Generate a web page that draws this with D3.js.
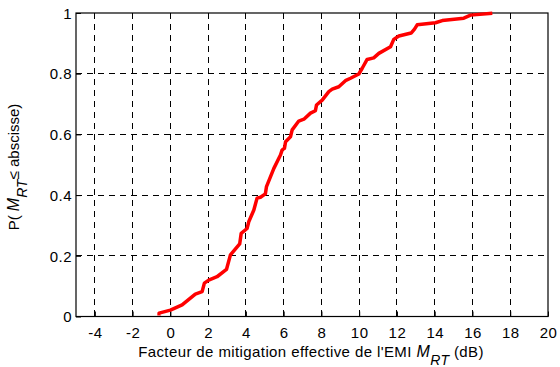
<!DOCTYPE html>
<html><head><meta charset="utf-8">
<script src="https://cdn.jsdelivr.net/npm/d3@7"></script>
<style>body{margin:0;background:#fff}svg{display:block}text{font-family:"Liberation Sans",Arial,sans-serif;fill:#000}</style>
</head><body><svg id="c" width="560" height="367"></svg>
<script>
const xTicks = [-4,-2,0,2,4,6,8,10,12,14,16,18,20];
const xTickLabels = ["-4","-2","0","2","4","6","8","10","12","14","16","18","20"];
const yTicks = [0,0.2,0.4,0.6,0.8,1];
const yTickLabels = ["0","0.2","0.4","0.6","0.8","1"];
const cdfX = [-0.6,-0.6,0,0.62,1.32,1.68,1.8,2.03,2.47,2.97,3.18,3.67,3.75,4.06,4.15,4.42,4.59,4.77,5.03,5.09,5.48,5.83,5.92,6.04,6.1,6.36,6.45,6.8,7.07,7.42,7.68,7.74,8.04,8.39,8.57,8.92,9.27,9.54,9.98,10.16,10.42,10.77,11.04,11.66,11.83,12.1,12.75,12.93,13.07,14.04,14.4,15.54,15.9,17.05];
const cdfY = [0.003,0.011,0.021,0.038,0.074,0.082,0.11,0.12,0.131,0.155,0.203,0.239,0.274,0.29,0.312,0.351,0.39,0.393,0.404,0.428,0.488,0.532,0.549,0.554,0.576,0.592,0.615,0.644,0.65,0.67,0.678,0.697,0.713,0.741,0.749,0.757,0.777,0.785,0.799,0.818,0.847,0.852,0.867,0.889,0.913,0.924,0.934,0.947,0.961,0.968,0.975,0.983,0.993,0.999];

const m = {l:76, r:548, t:13, b:316.5};
const svg = d3.select("#c");
const x = d3.scaleLinear().domain([-5,20]).range([m.l,m.r]);
const y = d3.scaleLinear().domain([0,1]).range([m.b,m.t]);

// grid
svg.append("g").selectAll("line").data(xTicks.filter(d=>d>-5&&d<20)).join("line")
  .attr("x1",d=>x(d)).attr("x2",d=>x(d)).attr("y1",m.t).attr("y2",m.b)
  .attr("stroke","#000").attr("stroke-width",1).attr("stroke-dasharray","6,5").attr("shape-rendering","crispEdges");
svg.append("g").selectAll("line").data(yTicks.filter(d=>d>0&&d<1)).join("line")
  .attr("y1",d=>y(d)).attr("y2",d=>y(d)).attr("x1",m.l).attr("x2",m.r)
  .attr("stroke","#000").attr("stroke-width",1).attr("stroke-dasharray","6,5").attr("shape-rendering","crispEdges");

// axes
const xAxis = d3.axisBottom(x).tickValues(xTicks).tickFormat((d,i)=>xTickLabels[i]).tickSizeInner(-5).tickSizeOuter(0).tickPadding(10.5);
const gx = svg.append("g").attr("transform",`translate(0,${m.b})`).call(xAxis);
const yAxis = d3.axisLeft(y).tickValues(yTicks).tickFormat((d,i)=>yTickLabels[i]).tickSizeInner(-5).tickSizeOuter(0).tickPadding(4);
const gy = svg.append("g").attr("transform",`translate(${m.l},0)`).call(yAxis);
[gx,gy].forEach(g=>{g.select(".domain").remove();g.selectAll("text").attr("font-size",15).attr("letter-spacing",0.5).attr("font-family","Liberation Sans, Arial, sans-serif");g.selectAll("line").attr("stroke","#000");});
gy.selectAll("text").attr("dy","0.35em");
svg.append("rect").attr("x",m.l).attr("y",m.t).attr("width",m.r-m.l).attr("height",m.b-m.t)
  .attr("fill","none").attr("stroke","#000").attr("stroke-width",1.2);

// curve
const line = d3.line().x(d=>x(d[0])).y(d=>y(d[1]));
svg.append("path").datum(cdfX.map((v,i)=>[v,cdfY[i]])).attr("d",line)
  .attr("fill","none").attr("stroke","#ff0000").attr("stroke-width",3.5).attr("stroke-linejoin","round");

// labels
const xl = svg.append("text").attr("x",311).attr("y",357).attr("text-anchor","middle").attr("font-size",15).attr("letter-spacing",0.4);
xl.append("tspan").text("Facteur de mitigation effective de l'EMI ");
xl.append("tspan").attr("font-style","italic").attr("font-size",16).text("M");
xl.append("tspan").attr("font-style","italic").attr("font-size",14).attr("dy",8).text("RT");
xl.append("tspan").attr("dy",-8).text(" (dB)");

const yl = svg.append("text").attr("transform","translate(19,167) rotate(-90)").attr("text-anchor","middle").attr("font-size",15);
yl.append("tspan").text("P( ");
yl.append("tspan").attr("font-style","italic").attr("font-size",16).text("M");
yl.append("tspan").attr("font-style","italic").attr("font-size",14).attr("dy",8).text("RT");
yl.append("tspan").attr("dy",-8).text("≤ abscisse)");
</script></body></html>
